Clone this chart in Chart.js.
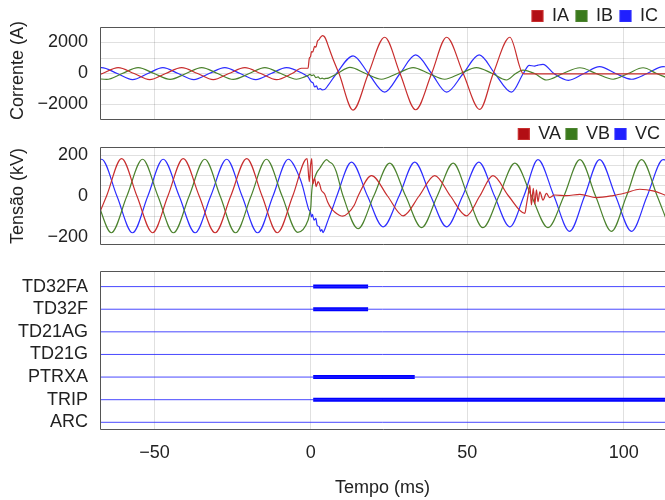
<!DOCTYPE html>
<html>
<head>
<meta charset="utf-8">
<script src="https://cdn.jsdelivr.net/npm/chart.js@4.4.1/dist/chart.umd.min.js"></script>
<style>
  body { margin: 0; background: #fff; }
  #wrap { position: relative; width: 665px; height: 500px; }
  canvas { position: absolute; left: 0; }
</style>
</head>
<body>
<div id="wrap">
  <canvas id="currentChart" width="665" height="120" style="top:0px"></canvas>
  <canvas id="voltageChart" width="665" height="125" style="top:120px"></canvas>
  <canvas id="digitalChart" width="665" height="255" style="top:245px"></canvas>
</div>
<script>
// time window of the record (ms)
const timeRange = [-67.4, 113.2];

// currents (A) - points read at peaks / zero crossings
const iaTime = [-68, -66.6, -61.6, -56.5, -51.5, -46.4, -41.3, -36.2, -31.2, -26.2, -21.1, -16.0, -11.0, -6.0, -3.0, -0.9,
  -0.5, -0.1, 0.2, 0.6, 1.2, 1.6, 2.1, 2.6, 3.1, 3.7, 4.2, 4.7, 5.8, 7.4, 9.0,
  13.5, 18.4, 23.6, 28.5, 33.5, 38.6, 43.4, 48.7, 54.0, 58.3, 63.6, 67.8, 69.0, 113.5];
const iaValues = [-100, 0, 380, 0, -400, 0, 380, 0, -400, 0, 380, 0, -400, 0, 340, 340,
  980, 1090, 1420, 1380, 1750, 1700, 2080, 2190, 2340, 2450, 2400, 2250, 1640, 770, 0,
  -2360, 0, 2340, 0, -2340, 0, 2340, 0, -2320, 0, 2340, 0, -30, -30];

const ibTime = [-68, -65.3, -60.3, -55.2, -50.1, -45.0, -39.9, -34.9, -29.8, -24.8, -19.7, -14.7, -9.6, -4.6, -2.0,
  -0.9, -0.3, 0.3, 0.9, 1.6, 2.3, 3.0, 3.6, 4.2, 4.8, 5.6, 8.5, 12.5, 17.5, 22.6,
  27.6, 32.7, 37.7, 42.8, 47.8, 52.9, 58.0, 62.5, 65.5, 67.8, 71.5, 75.3, 80.6, 86.0, 91.2, 96.6, 101.4, 106.2, 110.5, 113.5];
const ibValues = [-340, -380, 0, 380, 0, -380, 0, 380, 0, -380, 0, 380, 0, -370, -220,
  -120, -60, -140, -90, -260, -220, -340, -300, -350, -320, -300, 0, 390, 0, -370,
  0, 380, 0, -370, 0, 380, 0, -420, 0, 220, 0, -420, 0, 370, 0, -370, 0, 370, 0, -250];

const icTime = [-68, -66.9, -61.9, -57.0, -52.1, -47.3, -42.4, -37.4, -32.5, -27.5, -22.6, -17.6, -12.7, -7.8, -2.6,
  -0.9, 0.2, 0.7, 1.2, 1.8, 2.3, 3.0, 3.6, 4.4, 5.5, 8.2, 13.5, 18.4, 23.6, 28.5,
  33.5, 38.6, 43.4, 48.7, 53.8, 58.8, 64.1, 67.9, 69.8, 71.5, 72.6, 74.2, 77.7, 82.3, 87.3, 92.3, 97.4, 102.5, 107.5, 112.6, 113.5];
const icValues = [370, 380, 0, -390, 0, 380, 0, -390, 0, 380, 0, -390, 0, 380, 0,
  -220, -550, -600, -870, -800, -1030, -980, -1050, -1030, -770, 0, 1140, 0, -1200, 0,
  1200, 0, -1200, 0, 1200, 0, -1200, 0, 520, 480, 540, 590, 0, -440, 0, 440, 0, -370, 0, 440, 430];

// voltages (kV)
const vaTime = [-68, -65.3, -60.5, -55.6, -50.6, -45.7, -40.8, -35.7, -30.6, -25.6, -20.5, -15.6, -10.7, -5.8, -1.2,
  -0.5, -0.1, 0.3, 0.6, 1.2, 1.7, 2.3, 2.8, 3.3, 4.4, 5.4, 6.5, 7.5, 9.1, 10.2,
  11.8, 13.9, 15.1, 19.4, 24.5, 29.5, 34.6, 39.6, 44.6, 49.7, 54.0, 58.2, 63.2, 68.4,
  68.9, 69.5, 70.0, 70.5, 71.1, 71.6, 72.1, 72.6, 73.2, 74.2, 75.3, 76.3, 77.9, 81.7, 86.0, 91.3, 96.6, 100.8, 105.1, 109.4, 113.5];
const vaValues = [-100, 0, 183, 0, -180, 0, 183, 0, -180, 0, 183, 0, -180, 0, 183,
  70, 150, 183, 58, 88, 46, 70, 58, 30, 10, -31, -61, -77, -94, -99,
  -85, -44, 0, 100, 0, -97, 0, 100, 0, -97, 0, 100, 0, -85,
  -44, 10, 54, -44, 38, -40, 30, -28, 20, -20, 13, -8, 5, 2, 8, -8, 2, 16, 33, 25, 3];

const vbTime = [-68, -63.8, -58.8, -53.8, -48.9, -43.9, -38.9, -33.9, -29.0, -24.1, -19.1, -14.2, -9.2, -4.2,
  -0.9, -0.4, 0, 0.2, 0.5, 1.0, 1.8, 2.9, 3.9, 5.0, 6.0, 7.1, 8.1, 10.3, 15.1,
  20.1, 25.2, 30.3, 35.4, 40.4, 45.5, 50.2, 55.0, 60.1, 65.2, 70.5, 75.8, 80.9, 86.0, 91.0, 96.1, 100.9, 105.7, 110.7, 113.5];
const vbValues = [-40, -180, 0, 180, 0, -180, 0, 180, 0, -180, 0, 180, 0, -178,
  -119, -86, -53, 5, 54, 79, 112, 137, 161, 178, 166, 153, 120, 0, -160,
  0, 161, 0, -155, 0, 161, 0, -155, 0, 161, 0, -155, 0, 178, 0, -173, 0, 178, 0, -110];

const vcTime = [-68, -66.9, -62.0, -57.0, -52.1, -47.2, -42.1, -37.0, -32.0, -26.9, -22.0, -17.0, -12.1, -7.2,
  -3.5, -2.5, -1.4, -0.6, -0.2, 0.2, 0.5, 1.0, 1.6, 2.0, 2.7, 3.1, 3.5, 3.9, 4.4,
  5.5, 7.1, 8.3, 13.0, 18.1, 23.1, 28.2, 33.2, 38.3, 43.4, 48.5, 53.7, 58.7, 63.6, 68.1, 72.6, 77.7, 82.7, 87.5, 92.3, 97.4, 102.5, 107.5, 112.6, 113.5];
const vcValues = [175, 180, 0, -180, 0, 180, 0, -180, 0, 180, 0, -180, 0, 180,
  87, 40, -28, -69, -75, -102, -90, -118, -110, -143, -151, -173, -165, -179, -165,
  -118, -53, 0, 166, 0, -151, 0, 166, 0, -151, 0, 166, 0, -151, 0, 178, 0, -173, 0, 178, 0, -173, 0, 178, 176];

// digital channels, top to bottom, with the interval where each one is set
const channelNames = ['TD32FA', 'TD32F', 'TD21AG', 'TD21G', 'PTRXA', 'TRIP', 'ARC'];
const activeStart = [0.75, 0.75, null, null, 0.75, 0.75, null];
const activeEnd = [18.3, 18.3, null, null, 33.2, 113.5, null];

const COLORS = {
  red: 'rgb(200, 45, 45)', green: 'rgb(75, 130, 45)', blue: 'rgb(45, 45, 255)',
  redBox: '#b20e14', greenBox: '#3a7a1c', blueBox: '#1f1fff'
};
const gridColor = 'rgba(0,0,0,0.12)';
const textColor = '#222';

Chart.defaults.font.family = '"Liberation Sans", Arial, sans-serif';
Chart.defaults.font.size = 18;
Chart.defaults.color = textColor;
Chart.defaults.animation = false;

function minus(v) {
  return v < 0 ? '\u2212' + Math.abs(v) : String(v);
}

function toPoints(times, values) {
  return times.map((t, i) => ({x: t, y: values[i]}));
}

function wave(label, times, values, line, box) {
  return {
    label: label,
    data: toPoints(times, values),
    borderColor: line,
    backgroundColor: box,
    borderWidth: 1.2,
    pointRadius: 0,
    cubicInterpolationMode: 'monotone'
  };
}

function timeAxis(showLabels) {
  return {
    type: 'linear', min: timeRange[0], max: timeRange[1],
    border: {display: false},
    grid: {color: gridColor, drawTicks: false},
    ticks: {display: showLabels, stepSize: 50, includeBounds: false, padding: 12, maxRotation: 0,
      callback: v => minus(v)},
    title: {display: showLabels, text: 'Tempo (ms)', padding: {top: 0, bottom: 1}},
    afterFit: s => { s.height = showLabels ? 70 : 0; s.paddingLeft = 0; s.paddingRight = 0; }
  };
}

function valueAxis(title, range, step, labelStep, titleAlign) {
  return {
    min: -range, max: range,
    border: {display: false},
    grid: {color: gridColor, drawTicks: false},
    ticks: {stepSize: step, includeBounds: false, autoSkip: false, padding: 12,
      callback: v => (v % labelStep === 0 ? minus(v) : '')},
    title: {display: true, text: title, align: titleAlign, padding: {top: 7, bottom: 0}},
    afterFit: s => { s.width = 100; s.paddingTop = 0; s.paddingBottom = 0; }
  };
}

function legendAt(pad) {
  return {position: 'top', align: 'end', maxHeight: 27,
    labels: {boxWidth: 11, boxHeight: 11, padding: pad, color: textColor}};
}

// dark frame round the plot area (left, top, bottom)
const frame = {
  id: 'frame',
  afterDraw(chart) {
    const ctx = chart.ctx, a = chart.chartArea;
    const l = Math.round(a.left) + 0.5, t = Math.round(a.top) + 0.5, b = Math.round(a.bottom) - 0.5;
    ctx.save();
    ctx.strokeStyle = '#555';
    ctx.lineWidth = 1;
    ctx.beginPath();
    ctx.moveTo(a.right + 2, t);
    ctx.lineTo(l, t);
    ctx.lineTo(l, b);
    ctx.lineTo(a.right + 2, b);
    ctx.stroke();
    ctx.restore();
  }
};

new Chart(document.getElementById('currentChart'), {
  type: 'line',
  data: {datasets: [
    wave('IA', iaTime, iaValues, COLORS.red, COLORS.redBox),
    wave('IB', ibTime, ibValues, COLORS.green, COLORS.greenBox),
    wave('IC', icTime, icValues, COLORS.blue, COLORS.blueBox)
  ]},
  options: {
    responsive: false,
    events: [],
    layout: {padding: 0},
    plugins: {legend: legendAt(7), tooltip: {enabled: false}},
    scales: {x: timeAxis(false), y: valueAxis('Corrente (A)', 3000, 1000, 2000, 'start')}
  },
  plugins: [frame]
});

new Chart(document.getElementById('voltageChart'), {
  type: 'line',
  data: {datasets: [
    wave('VA', vaTime, vaValues, COLORS.red, COLORS.redBox),
    wave('VB', vbTime, vbValues, COLORS.green, COLORS.greenBox),
    wave('VC', vcTime, vcValues, COLORS.blue, COLORS.blueBox)
  ]},
  options: {
    responsive: false,
    events: [],
    layout: {padding: 0},
    plugins: {legend: legendAt(5), tooltip: {enabled: false}},
    scales: {x: timeAxis(false), y: valueAxis('Tensão (kV)', 240, 50, 200, 'center')}
  },
  plugins: [frame]
});

// digital panel: thin line per channel, thick where the bit is on
let digitalSets = [];
for (let i = 0; i < channelNames.length; i++) {
  let level = channelNames.length - 1 - i;
  digitalSets.push({
    label: channelNames[i],
    data: [{x: timeRange[0], y: level}, {x: timeRange[1], y: level}],
    borderColor: 'rgba(40, 40, 255, 0.85)',
    borderWidth: 1,
    pointRadius: 0
  });
  if (activeStart[i] !== null) {
    digitalSets.push({
      label: channelNames[i] + ' on',
      data: [{x: activeStart[i], y: level}, {x: activeEnd[i], y: level}],
      borderColor: '#0000ff',
      borderWidth: 4,
      pointRadius: 0
    });
  }
}

new Chart(document.getElementById('digitalChart'), {
  type: 'line',
  data: {datasets: digitalSets},
  options: {
    responsive: false,
    events: [],
    layout: {padding: {top: 26, bottom: 0, left: 0, right: 0}},
    plugins: {legend: {display: false}, tooltip: {enabled: false}},
    scales: {
      x: timeAxis(true),
      y: {
        min: -0.34, max: 6.69,
        border: {display: false},
        grid: {display: false, drawTicks: false},
        ticks: {stepSize: 1, includeBounds: false, autoSkip: false, padding: 12,
          callback: v => channelNames[channelNames.length - 1 - v]},
        afterFit: s => { s.width = 100; s.paddingTop = 0; s.paddingBottom = 0; }
      }
    }
  },
  plugins: [frame]
});
</script>
</body>
</html>
